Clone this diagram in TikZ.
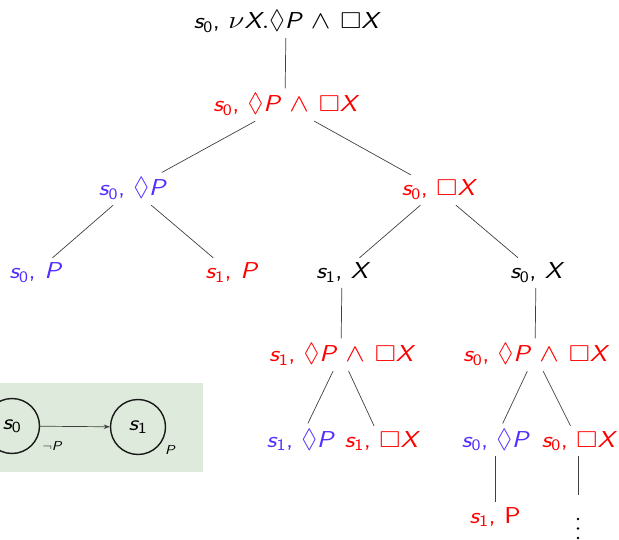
\documentclass[tikz,border=0pt]{standalone}
\usepackage{amsmath,amssymb,graphicx}
\usetikzlibrary{arrows.meta}
\newcommand{\mv}[1]{\text{\sffamily\itshape #1}}
\newcommand{\sv}[1]{\mv{s}_{\text{\sffamily #1}}}
\newcommand{\PP}{\mv{P}}
\newcommand{\XX}{\mv{X}}
\newcommand{\dia}{\mathord{\scalebox{0.85}[1.15]{$\Diamond$}}}
\newcommand{\wg}{\mathbin{\mkern2mu\wedge\mkern2mu}}
\newcommand{\tx}[1]{\scalebox{1.18}[1]{#1}}
\definecolor{tred}{RGB}{255,0,0}
\definecolor{tblue}{RGB}{85,45,255}
\definecolor{boxgreen}{RGB}{222,234,219}
\begin{document}
\begin{tikzpicture}[x=1pt,y=-1pt,
  tn/.style={font=\fontsize{23}{27}\selectfont\sffamily, anchor=base, inner sep=5pt},
  red/.style={text=tred},
  blu/.style={text=tblue},
  edge/.style={draw=black!75, line width=0.7pt},
  dotc/.style={fill=black},
  state/.style={circle, draw=black!90, line width=1.4pt, minimum size=55pt, inner sep=0pt, font=\fontsize{22}{26}\selectfont\sffamily},
  small/.style={font=\fontsize{13}{16}\selectfont\sffamily, inner sep=1pt}]
\useasboundingbox (0,0) rectangle (619,540);
% tree
\node[tn] (r) at (286,29) {\tx{$\sv0$, $\nu\XX.\dia\PP\wg\Box\XX$}};
\node[tn,red] (a) at (285,112) {\tx{$\sv0$, $\dia\PP\wg\Box\XX$}};
\node[tn,blu] (b) at (132,196) {\tx{$\sv0$, $\dia\PP$}};
\node[tn,red] (c) at (438,196) {\tx{$\sv0$, $\Box\XX$}};
\node[tn,blu] (b1) at (35,279) {\tx{$\sv0$, $\PP$}};
\node[tn,red] (b2) at (231,279) {\tx{$\sv1$, $\PP$}};
\node[tn] (c1) at (342,279) {\tx{$\sv1$, $\XX$}};
\node[tn] (c2) at (536,279) {\tx{$\sv0$, $\XX$}};
\node[tn,red] (d1) at (341,362) {\tx{$\sv1$, $\dia\PP\wg\Box\XX$}};
\node[tn,red] (d2) at (535,362) {\tx{$\sv0$, $\dia\PP\wg\Box\XX$}};
\node[tn,blu] (e1) at (300,447) {\tx{$\sv1$, $\dia\PP$}};
\node[tn,red] (e2) at (381,447) {\tx{$\sv1$, $\Box\XX$}};
\node[tn,blu] (e3) at (495,447) {\tx{$\sv0$, $\dia\PP$}};
\node[tn,red] (e4) at (578,447) {\tx{$\sv0$, $\Box\XX$}};
\node[tn,red] (f1) at (495,523) {\tx{$\sv1$, P}};
\coordinate (f2) at (578,495);
\fill[dotc] (578,519) circle (1.4pt) (578,528.5) circle (1.4pt) (578,538) circle (1.4pt);
\draw[edge] (r) -- (a);
\draw[edge] (a) -- (b);
\draw[edge] (a) -- (c);
\draw[edge] (b) -- (b1);
\draw[edge] (b) -- (b2);
\draw[edge] (c) -- (c1);
\draw[edge] (c) -- (c2);
\draw[edge] (c1) -- (d1);
\draw[edge] (c2) -- (d2);
\draw[edge] (d1) -- (e1);
\draw[edge] (d1) -- (e2);
\draw[edge] (d2) -- (e3);
\draw[edge] (d2) -- (e4);
\draw[edge] (e3) -- (f1);
\draw[edge] (e4.south) -- (f2);
% state diagram
\fill[boxgreen] (0,383) rectangle (203,472);
\node[state] (s0) at (12,426) {\tx{$\sv0$}};
\node[state] (s1) at (138,427) {\tx{$\sv1$}};
\draw[edge, -{Stealth[length=6pt]}] (s0) -- (s1);
\node[small] (l0) at (52,446) {\tx{$\neg\PP$}};
\node[small] (l1) at (170,450) {\tx{$\PP$}};
\end{tikzpicture}
\end{document}
